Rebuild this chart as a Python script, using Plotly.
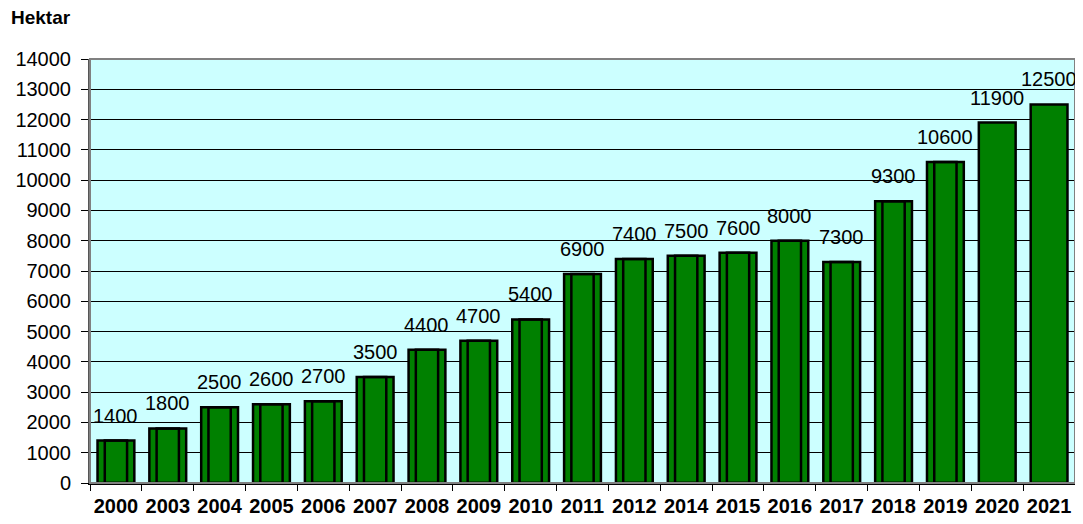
import plotly.graph_objects as go

years = ["2000", "2003", "2004", "2005", "2006", "2007", "2008", "2009", "2010", "2011",
         "2012", "2014", "2015", "2016", "2017", "2018", "2019", "2020", "2021"]
hectares = [1400, 1800, 2500, 2600, 2700, 3500, 4400, 4700, 5400, 6900,
            7400, 7500, 7600, 8000, 7300, 9300, 10600, 11900, 12500]
y_ticks = list(range(0, 14001, 1000))

# inner outline (3D-look) only drawn for the older bars
inner = [v if y not in ("2020", "2021") else None for y, v in zip(years, hectares)]

fig = go.Figure()
fig.add_trace(go.Bar(
    x=years, y=hectares, width=0.71,
    marker=dict(color="#008000", line=dict(color="black", width=2.5)),
    hoverinfo="x+y",
))
fig.add_trace(go.Bar(
    x=years, y=inner, width=0.43,
    marker=dict(color="rgba(0,0,0,0)", line=dict(color="black", width=2.5)),
    hoverinfo="skip",
))

# value labels (category index positions on the category axis)
annotations = [dict(x=i, y=v, xref="x", yref="y", text=str(v), showarrow=False,
                    yanchor="bottom", yshift=12,
                    font=dict(family="Arial", size=20, color="black"))
               for i, v in enumerate(hectares)]
annotations.append(dict(text="<b>Hektar</b>", x=-0.082, y=1.097, xref="paper", yref="paper",
                        xanchor="left", yanchor="middle", showarrow=False,
                        font=dict(family="Arial", size=19, color="black")))

fig.update_layout(
    width=1083, height=524,
    margin=dict(l=82, r=16, t=51, b=49),
    paper_bgcolor="white", plot_bgcolor="#CCFFFF",
    barmode="overlay", showlegend=False,
    font=dict(family="Arial", color="black"),
    annotations=annotations,
)
fig.update_yaxes(
    range=[0, 14000], tickvals=y_ticks, tickformat="d", automargin=False,
    ticks="outside", ticklen=7, tickcolor="black", ticklabelstandoff=6,
    showgrid=True, gridcolor="black", gridwidth=1,
    showline=True, linecolor="#555555", linewidth=2, mirror=False,
    tickfont=dict(family="Arial", size=20, color="black"), zeroline=False,
)
fig.update_xaxes(
    type="category", tickangle=0, automargin=False, range=[-0.5, len(years) - 0.5],
    tickson="boundaries", ticks="outside", ticklen=6, tickcolor="black",
    ticklabelstandoff=4,
    showline=True, linecolor="black", linewidth=1.5,
    tickfont=dict(family="Arial", size=20, color="black"),
    tickprefix="<b>", ticksuffix="</b>",
)
# gray border of plot area (top and right)
fig.add_shape(type="rect", xref="paper", yref="paper", x0=0, x1=1, y0=0, y1=1,
              line=dict(color="#808080", width=2), fillcolor="rgba(0,0,0,0)", layer="above")

fig.write_html("out.html")
